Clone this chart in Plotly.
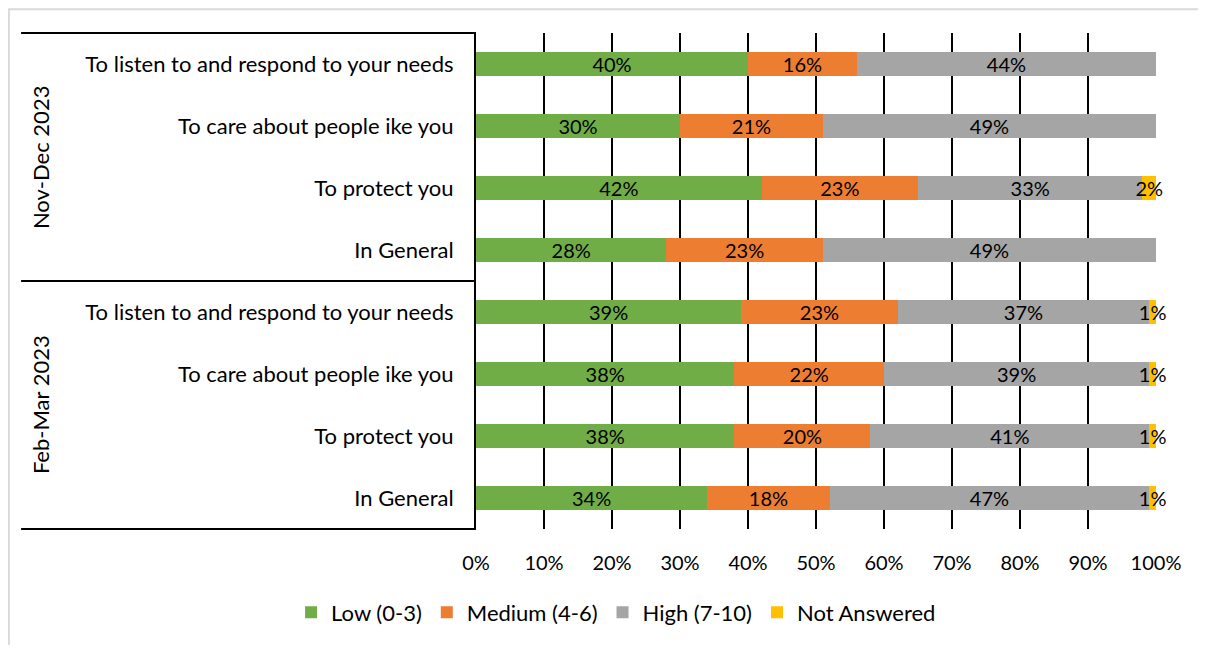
import plotly.graph_objects as go

# survey waves, top to bottom
waves = ["Nov-Dec 2023", "Feb-Mar 2023"]
questions = [
    "To listen to and respond to your needs",
    "To care about people ike you",
    "To protect you",
    "In General",
]

series = ["Low (0-3)", "Medium (4-6)", "High (7-10)", "Not Answered"]
colors = ["#70AD47", "#ED7D31", "#A5A5A5", "#FFC000"]

# percentages per wave, in the order of questions
low = {"Nov-Dec 2023": [40, 30, 42, 28], "Feb-Mar 2023": [39, 38, 38, 34]}
medium = {"Nov-Dec 2023": [16, 21, 23, 23], "Feb-Mar 2023": [23, 22, 20, 18]}
high = {"Nov-Dec 2023": [44, 49, 33, 49], "Feb-Mar 2023": [37, 39, 41, 47]}
not_answered = {"Nov-Dec 2023": [0, 0, 2, 0], "Feb-Mar 2023": [1, 1, 1, 1]}

x_ticks = [0, 10, 20, 30, 40, 50, 60, 70, 80, 90, 100]

FONT = "Lato, 'Open Sans', sans-serif"

# unique keys for each row, labelled with the question text only
keys = [w + " | " + q for w in waves for q in questions]
labels = [q for w in waves for q in questions]

fig = go.Figure()
for name, color, data in zip(series, colors, [low, medium, high, not_answered]):
    vals = [v for w in waves for v in data[w]]
    fig.add_trace(go.Bar(
        y=keys,
        x=vals,
        name=name,
        orientation="h",
        marker=dict(color=color, line=dict(width=0)),
        width=0.4,
        text=[f"{v}%" if v else "" for v in vals],
        textposition="inside",
        insidetextanchor="middle",
        textangle=0,
        constraintext="none",
        textfont=dict(family=FONT, size=20, color="black"),
        cliponaxis=False,
        hoverinfo="x+name",
    ))

fig.update_layout(
    barmode="stack",
    width=1190,
    height=637,
    margin=dict(l=468, r=42, t=25, b=112),
    paper_bgcolor="white",
    plot_bgcolor="white",
    font=dict(family=FONT, size=20, color="black"),
    showlegend=True,
    legend=dict(
        orientation="h",
        x=0.206, xanchor="center",
        y=-0.168, yanchor="middle",
        font=dict(family=FONT, size=22),
        traceorder="normal",
    ),
    xaxis=dict(
        range=[0, 100],
        tickvals=x_ticks,
        ticktext=[f"{t}%" for t in x_ticks],
        showgrid=True,
        gridcolor="black",
        gridwidth=2,
        zeroline=False,
        showline=False,
        ticks="",
        ticklabelstandoff=20,
    ),
    yaxis=dict(
        type="category",
        categoryorder="array",
        categoryarray=keys,
        autorange="reversed",
        tickvals=keys,
        ticktext=labels,
        tickfont=dict(family=FONT, size=22),
        showgrid=False,
        showline=True,
        linecolor="black",
        linewidth=2,
        ticks="",
        ticklabelstandoff=16,
    ),
)

# Excel-style group separators and rotated wave labels
for yy in [0, 0.5, 1]:
    fig.add_shape(type="line", xref="paper", yref="paper",
                  x0=-0.669, x1=0, y0=yy, y1=yy,
                  line=dict(color="black", width=2))

for wave, yc in zip(waves, [0.75, 0.25]):
    fig.add_annotation(text=wave, xref="paper", yref="paper",
                       x=-0.641, y=yc, xanchor="center", yanchor="middle",
                       textangle=-90, showarrow=False,
                       font=dict(family=FONT, size=22, color="black"))

# light outer chart border (right and bottom edges fall outside the page)
fig.add_shape(type="rect", xref="paper", yref="paper",
              x0=-0.687, x1=1.2, y0=-0.4, y1=1.048,
              line=dict(color="#D9D9D9", width=2), layer="below")

fig.write_html("out.html")
